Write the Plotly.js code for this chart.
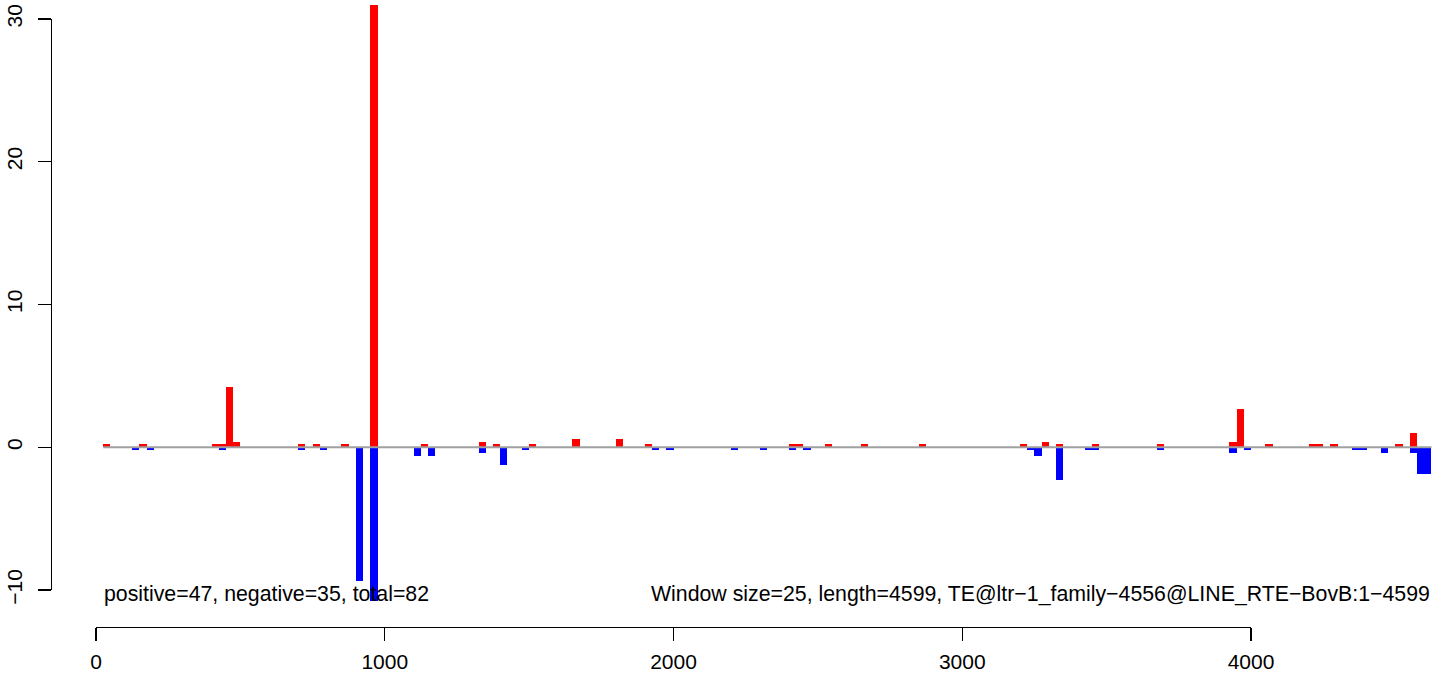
<!DOCTYPE html>
<html>
<head>
<meta charset="utf-8">
<script src="https://cdn.plot.ly/plotly-3.0.1.min.js"></script>
<style>html,body{margin:0;padding:0;background:#fff;}#chart{width:1455px;height:676px;}</style>
</head>
<body>
<div id="chart"></div>
<script>
// ---- data (window starts, values) ----
const windowSize = 25;
const seqLength = 4599;
const posStart = [25,150,400,425,450,475,700,750,850,950,1125,1325,1375,1500,1650,1800,1900,2400,2425,2525,2650,2850,3200,3275,3325,3450,3675,3925,3950,4050,4200,4225,4275,4500,4550];
const posValue = [0.2,0.2,0.2,0.2,4.2,0.4,0.2,0.2,0.2,31.0,0.2,0.4,0.2,0.2,0.6,0.6,0.2,0.2,0.2,0.2,0.2,0.2,0.2,0.4,0.2,0.2,0.2,0.4,2.7,0.2,0.2,0.2,0.2,0.2,1.0];
const negStart = [125,175,425,700,775,900,950,1100,1150,1325,1400,1475,1925,1975,2200,2300,2400,2450,3225,3250,3325,3425,3450,3675,3925,3975,4350,4375,4450,4550,4575,4600];
const negValue = [-0.2,-0.2,-0.2,-0.2,-0.2,-9.4,-10.8,-0.6,-0.6,-0.4,-1.25,-0.2,-0.2,-0.2,-0.2,-0.2,-0.2,-0.2,-0.2,-0.6,-2.3,-0.2,-0.2,-0.2,-0.4,-0.2,-0.2,-0.2,-0.4,-0.4,-1.9,-1.9];
const xTicks = [0,1000,2000,3000,4000];
const yTicks = [-10,0,10,20,30];
const leftText = "positive=47, negative=35, total=82";
const rightText = "Window size=25, length=4599, TE@ltr\u22121_family\u22124556@LINE_RTE\u2212BovB:1\u22124599";

// ---- geometry ----
const W = 1455, H = 676;
const mL = 51, mR = 0, mT = 0, mB = 49;
const pw = W - mL - mR, ph = H - mT - mB;
const x0px = 96, xPerUnit = (1251 - 96) / 4000;
const y0px = 447.25, yPerUnit = (590 - 19) / 40;
const xr = [(mL - x0px) / xPerUnit, (W - mR - x0px) / xPerUnit];
const yr = [(y0px - (H - mB)) / yPerUnit, (y0px - mT) / yPerUnit];
const xToPaper = v => (x0px + v * xPerUnit - mL) / pw;
const yToPaper = v => ((H - mB) - (y0px - v * yPerUnit)) / ph;

const allStarts = posStart.concat(negStart);
const lineFrom = Math.min(...allStarts);
const lineTo = Math.max(...allStarts) + windowSize;

const font = {family: "Liberation Sans, Arial, Helvetica, sans-serif", size: 21.3, color: "#000"};
const tfont = {family: "Liberation Sans, Arial, Helvetica, sans-serif", size: 21, color: "#000"};

const traces = [
  {type:'bar', x: posStart.map(s => s + windowSize/2), y: posValue, width: windowSize,
   marker:{color:'#FF0000', line:{width:0}}, xaxis:'x', yaxis:'y', showlegend:false, hoverinfo:'x+y'},
  {type:'bar', x: negStart.map(s => s + windowSize/2), y: negValue, width: windowSize,
   marker:{color:'#0000FF', line:{width:0}}, xaxis:'x', yaxis:'y', showlegend:false, hoverinfo:'x+y'},
  {type:'scatter', mode:'lines', x:[lineFrom, lineTo], y:[0,0], line:{color:'#A0A0A0', width:2},
   xaxis:'x', yaxis:'y', showlegend:false, hoverinfo:'skip'},
  {type:'scatter', mode:'markers', x:[], y:[], xaxis:'x2', yaxis:'y2', showlegend:false, hoverinfo:'skip'}
];

const layout = {
  width: W, height: H,
  margin: {l: mL, r: mR, t: mT, b: mB, pad: 0},
  paper_bgcolor: '#fff', plot_bgcolor: 'rgba(0,0,0,0)',
  barmode: 'overlay', bargap: 0,
  font: font,
  xaxis: {range: xr, visible: false, fixedrange: true, domain:[0,1]},
  yaxis: {range: yr, visible: false, fixedrange: true, domain:[0,1]},
  xaxis2: {domain: [xToPaper(xTicks[0]), xToPaper(xTicks[xTicks.length-1])], range: [xTicks[0], xTicks[xTicks.length-1]],
           anchor: 'free', position: 0, showline: true, linecolor: '#000', linewidth: 1.3,
           ticks: 'outside', ticklen: 13, tickwidth: 1.3, tickcolor: '#000', tickvals: xTicks,
           ticktext: xTicks.map(String), showgrid: false, zeroline: false, tickfont: tfont,
           ticklabelstandoff: 2, fixedrange: true},
  yaxis2: {domain: [yToPaper(yTicks[0]), yToPaper(yTicks[yTicks.length-1])], range: [yTicks[0], yTicks[yTicks.length-1]],
           anchor: 'free', position: 0, side: 'left', showline: true, linecolor: '#000', linewidth: 1.3,
           ticks: 'outside', ticklen: 13, tickwidth: 1.3, tickcolor: '#000', tickvals: yTicks,
           ticktext: yTicks.map(v => v < 0 ? '\u2212' + Math.abs(v) : String(v)),
           tickangle: -90, showgrid: false, zeroline: false, tickfont: tfont,
           ticklabelstandoff: 8, fixedrange: true},
  annotations: [
    {xref:'x', yref:'y', x: lineFrom, y: -10.25, text: leftText, showarrow: false,
     xanchor:'left', yanchor:'middle', font: font, borderpad: 0},
    {xref:'x', yref:'y', x: lineTo, y: -10.25, text: rightText, showarrow: false,
     xanchor:'right', yanchor:'middle', font: font, borderpad: 0}
  ]
};

Plotly.newPlot('chart', traces, layout, {staticPlot: true, displayModeBar: false});
</script>
</body>
</html>
